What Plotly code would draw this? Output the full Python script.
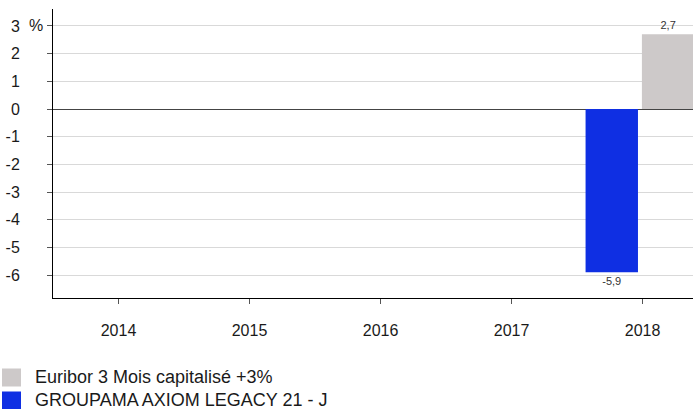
import plotly.graph_objects as go

categories = ["2014", "2015", "2016", "2017", "2018"]
fund_name = "GROUPAMA AXIOM LEGACY 21 - J"
fund_values = [None, None, None, None, -5.9]
bench_name = "Euribor 3 Mois capitalisé +3%"
bench_values = [None, None, None, None, 2.7]
y_ticks = [-6, -5, -4, -3, -2, -1, 0, 1, 2, 3]
y_tick_labels = ["-6", "-5", "-4", "-3", "-2", "-1", "0", "1", "2", "3"]

BLUE = "#0F2FE3"
GREY = "#CDC9C9"
FONT = "Liberation Sans, Arial, sans-serif"
TXT = "#1A1A1A"

def fmt(v):
    return None if v is None else f"{v:.1f}".replace(".", ",")

fig = go.Figure()
fig.add_trace(go.Bar(
    x=categories, y=fund_values, name=fund_name, marker_color=BLUE,
    marker_line_width=0, width=0.4, offset=-0.435,
    text=[fmt(v) for v in fund_values], textposition="outside",
    textfont=dict(size=11, color="#333333", family=FONT),
    cliponaxis=False, showlegend=False,
))
fig.add_trace(go.Bar(
    x=categories, y=bench_values, name=bench_name, marker_color=GREY,
    marker_line_width=0, width=0.4, offset=-0.005,
    text=[fmt(v) for v in bench_values], textposition="outside",
    textfont=dict(size=11, color="#333333", family=FONT),
    cliponaxis=False, showlegend=False,
))

fig.update_layout(
    width=693, height=409,
    margin=dict(l=53, r=0, t=9, b=111),
    plot_bgcolor="white", paper_bgcolor="white",
    font=dict(family=FONT, size=16, color=TXT),
    barmode="group",
    uniformtext=dict(minsize=11, mode="show"),
    xaxis=dict(
        range=[-0.5, 4.385], showgrid=False,
        showline=True, linecolor="#000000", linewidth=1,
        ticks="outside", ticklen=5, tickcolor="#555555",
        ticklabelstandoff=13, tickfont=dict(size=16, color=TXT),
    ),
    yaxis=dict(
        range=[-6.83, 3.614], tickvals=y_ticks, ticktext=y_tick_labels,
        showgrid=True, gridcolor="#D9D9D9", gridwidth=1,
        zeroline=True, zerolinecolor="#444444", zerolinewidth=1,
        showline=True, linecolor="#000000", linewidth=1,
        ticks="outside", ticklen=5, tickcolor="#555555",
        ticklabelstandoff=24, tickfont=dict(size=16, color=TXT),
    ),
)

fig.add_annotation(text="%", xref="paper", yref="y", x=0, y=3,
                   xanchor="right", xshift=-8, showarrow=False,
                   font=dict(size=16, color=TXT))

# Legend drawn manually (square swatches)
legend_items = [(bench_name, GREY), (fund_name, BLUE)]
paper_h = 409 - 9 - 111
for i, (name, col) in enumerate(legend_items):
    cy = 377.5 + 23 * i
    y0 = (298 - (cy + 9)) / paper_h
    y1 = (298 - (cy - 9)) / paper_h
    fig.add_shape(type="rect", xref="paper", yref="paper",
                  x0=(2 - 53) / 640, x1=(21 - 53) / 640, y0=y0, y1=y1,
                  fillcolor=col, line_width=0, layer="above")
    fig.add_annotation(text=name, xref="paper", yref="paper",
                       x=(33 - 53) / 640, y=(298 - (cy - 1)) / paper_h,
                       xanchor="left", yanchor="middle", showarrow=False,
                       font=dict(size=18, color=TXT))

fig.write_html("out.html", config={"displayModeBar": False},
               post_script="document.body.style.margin='0';")
